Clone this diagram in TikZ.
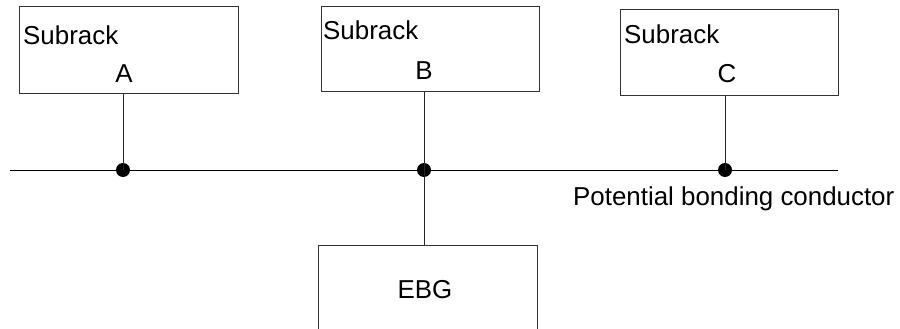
\documentclass[tikz,border=0pt]{standalone}
\usepackage{fontspec}
\setmainfont{Liberation Sans}
\tikzset{
  rack/.style={draw=black!80, line width=1pt, rectangle, inner sep=0pt},
  lbl/.style={inner sep=0pt, font=\fontsize{25.9}{30}\selectfont},
  wire/.style={draw=black!85, line width=1pt},
  joint/.style={circle, fill=black, inner sep=0pt, minimum size=14pt},
}
\begin{document}
\begin{tikzpicture}[x=1pt,y=-1pt]
\useasboundingbox (0,0) rectangle (900,329);
\clip (0,0) rectangle (900,329);

% subracks
\node[rack, minimum width=219pt, minimum height=87pt] (rackA) at (128.5,50.5) {};
\node[rack, minimum width=218pt, minimum height=85pt] (rackB) at (430,49.5) {};
\node[rack, minimum width=218pt, minimum height=86pt] (rackC) at (729,53) {};

\node[lbl, anchor=base west] (subA) at (23,45) {Subrack};
\node[lbl, anchor=base] (nameA) at (124,82) {A};
\node[lbl, anchor=base west] (subB) at (323,40) {Subrack};
\node[lbl, anchor=base] (nameB) at (424,80) {B};
\node[lbl, anchor=base west] (subC) at (624,44) {Subrack};
\node[lbl, anchor=base] (nameC) at (727,83) {C};

% bonding conductor
\coordinate (busL) at (10,170);
\coordinate (busR) at (838,170);
\draw[wire, draw=black] (busL) -- (busR);

\node[joint] (jA) at (123,170) {};
\node[joint] (jB) at (424,170) {};
\node[joint] (jC) at (725,170) {};

\draw[wire] (jA |- rackA.south) -- (jA.center);
\draw[wire] (jB |- rackB.south) -- (jB.center);
\draw[wire] (jC |- rackC.south) -- (jC.center);

\node[lbl, anchor=base west] (pbc) at (573,205) {Potential bonding conductor};

% earth bonding
\node[rack, minimum width=219pt, minimum height=100pt] (ebg) at (427.5,295) {};
\node[lbl, anchor=base] (ebgtext) at (425,298) {EBG};
\draw[wire] (jB.center) -- (jB |- ebg.north);
\end{tikzpicture}
\end{document}
